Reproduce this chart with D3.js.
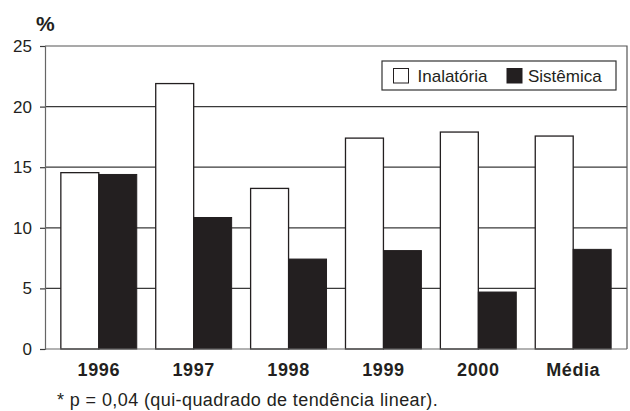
<!DOCTYPE html>
<html>
<head>
<meta charset="utf-8">
<script src="https://cdn.jsdelivr.net/npm/d3@7"></script>
<style>
  body { margin: 0; background: #fff; }
  text { font-family: "Liberation Sans", Arial, Helvetica, sans-serif; fill: #231f20; }
</style>
</head>
<body>
<script>
// dados
var anos = ["1996", "1997", "1998", "1999", "2000", "Média"];
var inalatoria = [14.55, 21.9, 13.25, 17.4, 17.9, 17.57];
var sistemica = [14.4, 10.85, 7.42, 8.12, 4.7, 8.22];
var series = ["Inalatória", "Sistêmica"];
var yTicks = [0, 5, 10, 15, 20, 25];
var nota = "* p = 0,04 (qui-quadrado de tendência linear).";

var width = 630, height = 411;
var mLeft = 45, mRight = 627, mTop = 46, mBottom = 349;
var escuro = "#231f20";

var svg = d3.select("body").append("svg")
    .attr("width", width)
    .attr("height", height);

var x = d3.scaleBand()
    .domain(anos)
    .range([mLeft, mRight])
    .paddingInner(0.2)
    .paddingOuter(0.167);

var xs = d3.scaleBand()
    .domain(series)
    .range([0, x.bandwidth()]);

var y = d3.scaleLinear()
    .domain([0, 25])
    .range([mBottom, mTop]);

// linhas de grade
svg.append("g")
    .selectAll("line")
    .data(yTicks.filter(function(d) { return d > 0 && d < 25; }))
    .enter().append("line")
    .attr("x1", mLeft)
    .attr("x2", mRight)
    .attr("y1", function(d) { return y(d); })
    .attr("y2", function(d) { return y(d); })
    .attr("stroke", "#3a3a3a")
    .attr("stroke-width", 1.2);

// moldura (topo e direita)
svg.append("path")
    .attr("d", "M" + mLeft + "," + mTop + "H" + mRight + "V" + mBottom)
    .attr("fill", "none")
    .attr("stroke", "#555")
    .attr("stroke-width", 1.2);

// eixo y
var yAxis = d3.axisLeft(y)
    .tickValues(yTicks)
    .tickSize(5)
    .tickPadding(8)
    .tickFormat(d3.format("d"));

var gy = svg.append("g")
    .attr("transform", "translate(" + mLeft + ",0)")
    .call(yAxis);
gy.select(".domain").attr("stroke", "#666").attr("stroke-width", 1.2);
gy.selectAll(".tick line").attr("stroke", "#3a3a3a").attr("stroke-width", 1.2);
gy.selectAll(".tick text")
    .attr("font-size", "17px")
    .attr("font-family", "Liberation Sans, Arial, sans-serif")
    .attr("fill", escuro);

// barras
var grupos = svg.selectAll(".grupo")
    .data(anos)
    .enter().append("g")
    .attr("class", "grupo")
    .attr("transform", function(d) { return "translate(" + x(d) + ",0)"; });

grupos.append("rect")
    .attr("x", xs("Inalatória"))
    .attr("y", function(d, i) { return y(inalatoria[i]); })
    .attr("width", xs.bandwidth())
    .attr("height", function(d, i) { return y(0) - y(inalatoria[i]); })
    .attr("fill", "#fff")
    .attr("stroke", escuro)
    .attr("stroke-width", 1.3);

grupos.append("rect")
    .attr("x", xs("Sistêmica"))
    .attr("y", function(d, i) { return y(sistemica[i]); })
    .attr("width", xs.bandwidth())
    .attr("height", function(d, i) { return y(0) - y(sistemica[i]); })
    .attr("fill", escuro)
    .attr("stroke", escuro)
    .attr("stroke-width", 1);

// linha de base
svg.append("line")
    .attr("x1", mLeft).attr("x2", mRight)
    .attr("y1", mBottom).attr("y2", mBottom)
    .attr("stroke", "#666")
    .attr("stroke-width", 1.2);

// rótulos x
svg.selectAll(".rotulo")
    .data(anos)
    .enter().append("text")
    .attr("class", "rotulo")
    .attr("x", function(d) { return x(d) + x.bandwidth() / 2; })
    .attr("y", 376)
    .attr("text-anchor", "middle")
    .attr("font-size", "18px")
    .attr("font-weight", "bold")
    .attr("letter-spacing", "0.6px")
    .text(function(d) { return d; });

// unidade
svg.append("text")
    .attr("x", 36)
    .attr("y", 31)
    .attr("font-size", "21px")
    .attr("font-weight", "bold")
    .text("%");

// legenda
var leg = svg.append("g").attr("transform", "translate(382,61)");
leg.append("rect")
    .attr("width", 234)
    .attr("height", 29)
    .attr("fill", "#fff")
    .attr("stroke", "#333")
    .attr("stroke-width", 1.2);

var legX = [11.5, 125];
var legItem = leg.selectAll(".item")
    .data(series)
    .enter().append("g")
    .attr("class", "item")
    .attr("transform", function(d, i) { return "translate(" + legX[i] + ",7.5)"; });

legItem.append("rect")
    .attr("width", 15)
    .attr("height", 14.5)
    .attr("fill", function(d, i) { return i === 0 ? "#fff" : escuro; })
    .attr("stroke", escuro)
    .attr("stroke-width", 1);

legItem.append("text")
    .attr("x", function(d, i) { return i === 0 ? 24 : 21; })
    .attr("y", 13)
    .attr("font-size", "17px")
    .text(function(d) { return d; });

// nota de rodapé
svg.append("text")
    .attr("x", 57)
    .attr("y", 406)
    .attr("font-size", "18px")
    .attr("letter-spacing", "0.4px")
    .text(nota);
</script>
</body>
</html>
